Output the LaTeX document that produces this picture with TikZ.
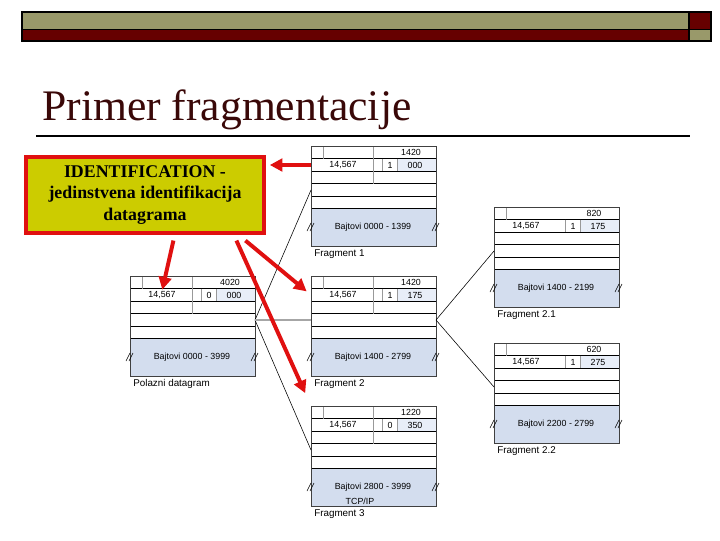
\documentclass[tikz,border=0pt]{standalone}
\usepackage{fontspec}
\setmainfont{Liberation Serif}
\setsansfont{Liberation Sans}
\usepackage{tikz}
\usetikzlibrary{arrows.meta,positioning}
\definecolor{barolive}{HTML}{99996A}
\definecolor{barred}{HTML}{660000}
\definecolor{titlered}{HTML}{3A0808}
\definecolor{idyellow}{HTML}{CCCC00}
\definecolor{idred}{HTML}{E01010}
\definecolor{datablue}{HTML}{D3DDEE}
\definecolor{offblue}{HTML}{E8EEF8}
\tikzset{
	dgbox/.style={draw=black!75, line width=0.6pt, inner sep=0pt, minimum width=3.125cm, minimum height=2.5cm},
	cell/.style={draw=black, line width=0.5pt},
	inner/.style={draw=gray!80, line width=0.4pt},
	celltext/.style={inner sep=0pt, font=\sffamily\fontsize{6.3}{7.5}\selectfont},
	caption/.style={inner sep=0pt, font=\sffamily\fontsize{7}{8}\selectfont},
	link/.style={draw=black, line width=0.4pt},
	idbox/.style={draw=idred, line width=2.2pt, fill=idyellow, align=center, inner sep=0pt,
		minimum width=5.95cm, minimum height=1.9cm, font=\bfseries\fontsize{12.7}{15.6}\selectfont},
	redarrow/.style={draw=idred, line width=2.8pt, -{Triangle[length=9pt,width=9pt]}}
}
\newcommand{\breakmark}[2]{
	\draw[line width=0.4pt] (#1-4,#2+4) -- ++(4,-8);
	\draw[line width=0.4pt] (#1-1,#2+4) -- ++(4,-8);
}
\newcommand{\datagram}[9]{
	\fill[datablue] (#2,#3+62) rectangle ++(125,38);
	\fill[offblue] (#2+86,#3+12.5) rectangle ++(39,12.5);
	\foreach \r in {12.5,25,37.5,50,62} \draw[cell] (#2,#3+\r) -- ++(125,0);
	\draw[inner] (#2+12,#3) -- ++(0,12.5);
	\draw[#9] (#2+62,#3) -- ++(0,37.5);
	\draw[inner] (#2+71,#3+12.5) -- ++(0,12.5);
	\draw[inner] (#2+86,#3+12.5) -- ++(0,12.5);
	\node[dgbox, anchor=north west] (#1) at (#2,#3) {};
	\node[celltext] (#1-len) at (#2+100,#3+6.5) {#4};
	\node[celltext] (#1-id) at (#2+32,#3+19) {14,567};
	\node[celltext] (#1-mf) at (#2+79,#3+19) {#5};
	\node[celltext] (#1-off) at (#2+104,#3+19) {#6};
	\node[celltext] (#1-data) at (#2+62,#3+81) {#7};
	\node[caption, anchor=west] (#1-cap) at (#2+3,#3+108) {#8};
	\coordinate (#1-in) at (#2,#3+44);
	\coordinate (#1-out) at (#2+125,#3+44);
	\coordinate (#1-idw) at (#2,#3+19);
	\breakmark{#2}{#3+81}
	\breakmark{#2+125}{#3+81}
}
\begin{document}
\begin{tikzpicture}[x=0.025cm, y=-0.025cm]
	\fill[white] (0,0) rectangle (720,540);
	% top bar
	\fill[barolive] (22,12) rectangle (689,29.5);
	\fill[barred] (22,29.5) rectangle (689,41);
	\fill[barred] (689,12) rectangle (711,29.5);
	\fill[barolive] (689,29.5) rectangle (711,41);
	\draw[line width=1.2pt] (22,12) rectangle (711,41) (22,29.5) -- (711,29.5) (689,12) -- (689,41);
	
	\node[anchor=base west, inner sep=0pt, text=titlered, font=\fontsize{31}{36}\selectfont] (title) at (42,120) {Primer fragmentacije};
	\draw[line width=1.5pt] (36,136) -- (690,136);
	
	\datagram{orig}{130}{276}{4020}{0}{000}{Bajtovi 0000 - 3999}{Polazni datagram}{inner}
	\datagram{frag1}{311}{146}{1420}{1}{000}{Bajtovi 0000 - 1399}{Fragment 1}{inner}
	\datagram{frag2}{311}{276}{1420}{1}{175}{Bajtovi 1400 - 2799}{Fragment 2}{inner}
	\datagram{frag3}{311}{406}{1220}{0}{350}{Bajtovi 2800 - 3999}{Fragment 3}{inner}
	\datagram{frag21}{494}{207}{820}{1}{175}{Bajtovi 1400 - 2199}{Fragment 2.1}{draw=none}
	\datagram{frag22}{494}{343}{620}{1}{275}{Bajtovi 2200 - 2799}{Fragment 2.2}{draw=none}
	\node[celltext] (frag3-proto) at (360,501) {TCP/IP};
	
	\draw[link] (orig-out) -- (frag1-in);
	\draw[link] (orig-out) -- (frag3-in);
	\draw[draw=gray!70, line width=1.4pt] (orig-out) -- (frag2-in);
	\draw[link] (frag2-out) -- (frag21-in);
	\draw[link] (frag2-out) -- (frag22-in);
	
	\node[idbox] (ident) at (145,195) {IDENTIFICATION -\\ jedinstvena identifikacija\\ datagrama};
	
	\draw[redarrow, shorten >=3pt] (frag1-idw) -- (ident.east |- frag1-idw);
	\draw[redarrow, shorten >=1pt] ([shift={(149,6)}]ident.south west) -- (orig-id.north);
	\draw[redarrow, shorten >=4pt] ([shift={(221,6)}]ident.south west) -- (frag2-idw);
	\draw[redarrow, shorten >=10pt] ([shift={(212,6)}]ident.south west) -- (frag3.north west);
\end{tikzpicture}
\end{document}
